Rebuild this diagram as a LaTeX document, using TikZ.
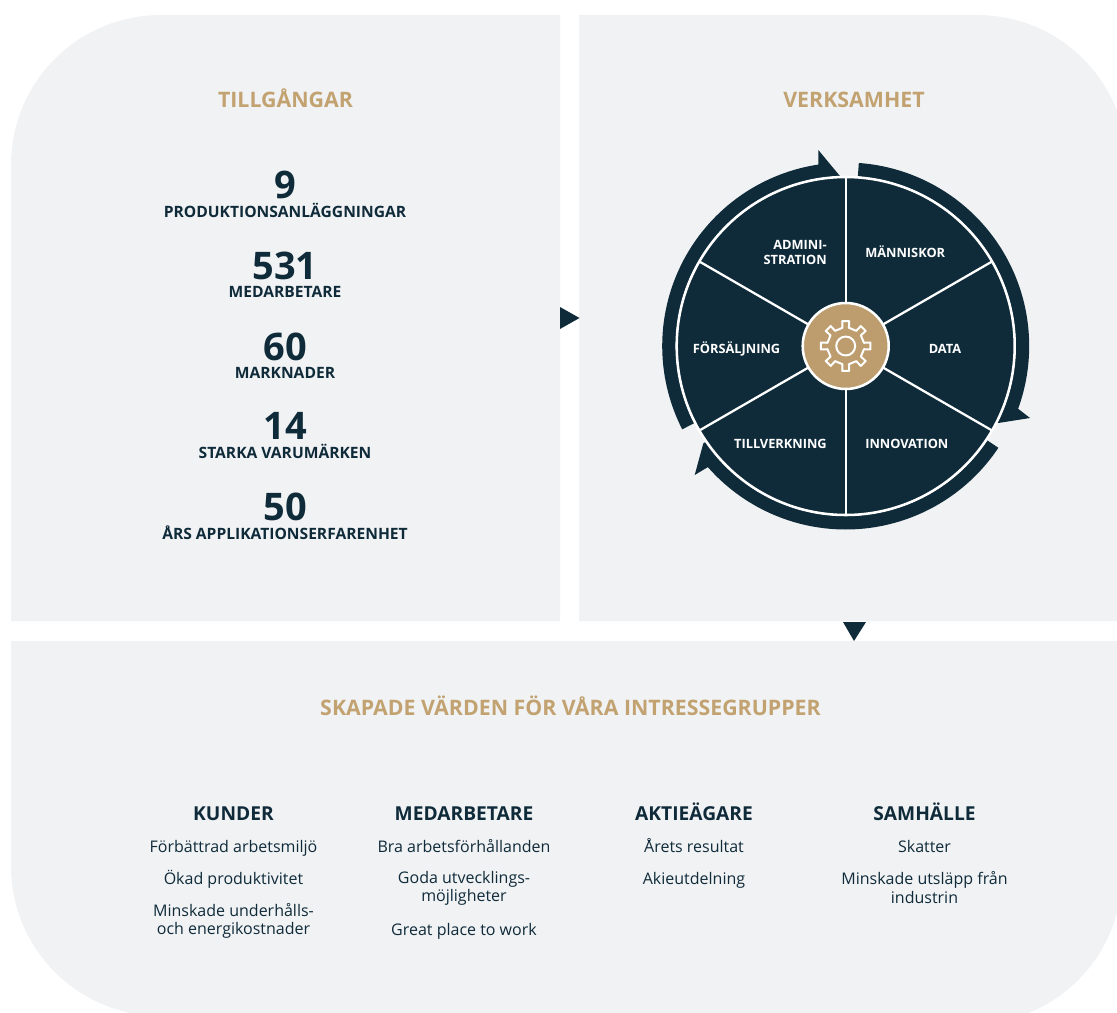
\documentclass[tikz,border=0pt]{standalone}
\usepackage{fontspec}
\setmainfont{Open Sans}
\definecolor{panelgrey}{HTML}{F1F2F4}
\definecolor{navy}{HTML}{0F2B3A}
\definecolor{gold}{HTML}{BD9C6E}
\definecolor{titlegold}{HTML}{C2A270}
\tikzset{
  panel/.style={fill=panelgrey,draw=none},
  heading/.style={font=\fontsize{16}{18}\selectfont\bfseries,text=titlegold,inner sep=0pt,anchor=center},
  bignum/.style={font=\fontsize{28.5}{30}\selectfont\bfseries,text=navy,inner sep=0pt,anchor=base},
  numlabel/.style={font=\fontsize{11.7}{14}\selectfont\bfseries,text=navy,inner sep=0pt,anchor=base},
  wedgelabel/.style={font=\fontsize{9.6}{11.8}\selectfont\bfseries,text=white,inner sep=0pt},
  grouphead/.style={font=\fontsize{14.4}{16}\selectfont\bfseries,text=navy,inner sep=0pt,anchor=base},
  groupitem/.style={font=\fontsize{12}{14}\selectfont,text=navy,inner sep=0pt,anchor=base},
  groupitemtwo/.style={font=\fontsize{12}{14}\selectfont,text=navy,inner sep=0pt,anchor=center,align=center},
  flowarrow/.style={fill=navy,draw=none},
  ringarc/.style={fill=navy,draw=none},
  spoke/.style={draw=white,line width=1.7pt}
}
\begin{document}
\begin{tikzpicture}[x=0.75pt,y=-0.75pt]
\useasboundingbox (0,0) rectangle (1117,1013);
\clip (0,0) rectangle (1117,1013);
% panels
\fill[panel] (11,621) -- (11,165) .. controls (11,82) and (78,15) .. (161,15) -- (560,15) -- (560,621) -- cycle;
\fill[panel] (579,621) -- (579,15) -- (977,15) .. controls (1060,15) and (1127,82) .. (1127,165) -- (1127,621) -- cycle;
\fill[panel] (11,641) -- (1122,641) -- (1122,874) .. controls (1122,957) and (1055,1024) .. (972,1024) -- (161,1016) .. controls (78,1016) and (11,949) .. (11,866) -- cycle;
% flow arrows
\fill[flowarrow] (560,307) -- (579.5,318) -- (560,329) -- cycle;
\fill[flowarrow] (843,622) -- (866,622) -- (854,641) -- cycle;
% left panel
\node[heading] (t1) at (285.5,98.5) {TILLGÅNGAR};
\node[bignum] (n1) at (285,198.3) {9};
\node[numlabel] (l1) at (285,218) {PRODUKTIONSANLÄGGNINGAR};
\node[bignum] (n2) at (285,279.3) {531};
\node[numlabel] (l2) at (285,297.7) {MEDARBETARE};
\node[bignum] (n3) at (285,360) {60};
\node[numlabel] (l3) at (285,378) {MARKNADER};
\node[bignum] (n4) at (285,439.5) {14};
\node[numlabel] (l4) at (285,458.4) {STARKA VARUMÄRKEN};
\node[bignum] (n5) at (285,520.8) {50};
\node[numlabel] (l5) at (285,539) {ÅRS APPLIKATIONSERFARENHET};
% wheel
\node[heading] (t2) at (854,99.5) {VERKSAMHET};
\begin{scope}[shift={(845.7,346)}]
  \fill[navy] (0,0) circle[radius=126.75pt];
  \fill[ringarc] plot[domain=-85.9:20,samples=70] (\x:183.5) -- (184.3,72) -- (152.6,77) -- plot[domain=26.8:-85.9,samples=70] (\x:170);
  \fill[ringarc] plot[domain=33.7:138.7,samples=70] (\x:183.5) -- (-151,129) -- (-142.4,97.4) -- plot[domain=145.6:33.7,samples=70] (\x:170);
  \fill[ringarc] plot[domain=153:261.4,samples=70] (\x:183.5) -- (-27.4,-196) -- (-5.7,-169.9) -- plot[domain=268:153,samples=70] (\x:170);
  \foreach \a in {-90,-30,30,90,150,210} \draw[spoke] (0,0) -- (\a:169);
  \draw[white,line width=1.9pt] (0,0) circle[radius=126.75pt];
  \node[circle,fill=gold,draw=white,line width=1.9pt,minimum size=64.5pt,inner sep=0pt] (hub) at (0,0) {};
  \draw[white,line width=1.5pt,line join=round] (-10:18.5)
    \foreach \a in {0,45,...,315} { -- ({\a-10}:18.5) -- ({\a-8}:25) -- ({\a+8}:25) -- ({\a+10}:18.5) } -- cycle;
  \draw[white,line width=1.5pt] (0,0) circle[radius=7.1pt];
\end{scope}
\node[wedgelabel,anchor=base west] (w1) at (865,257.2) {MÄNNISKOR};
\node[wedgelabel,anchor=base] (w2) at (945,353.2) {DATA};
\node[wedgelabel,anchor=base west] (w3) at (865,448.3) {INNOVATION};
\node[wedgelabel,anchor=base east] (w4) at (827,448.3) {TILLVERKNING};
\node[wedgelabel,anchor=base] (w5) at (736.5,353.2) {FÖRSÄLJNING};
\node[wedgelabel,anchor=east,align=right] (w6) at (827,252.5) {ADMINI-\\STRATION};
% bottom panel
\node[heading] (t3) at (570.5,705.5) {SKAPADE VÄRDEN FÖR VÅRA INTRESSEGRUPPER};
\node[grouphead] (g1) at (233.5,820) {KUNDER};
\node[groupitem] (g1a) at (233.5,852) {Förbättrad arbetsmiljö};
\node[groupitem] (g1b) at (233.5,884) {Ökad produktivitet};
\node[groupitemtwo] (g1c) at (233.5,921) {Minskade underhålls-\\och energikostnader};
\node[grouphead] (g2) at (464,820) {MEDARBETARE};
\node[groupitem] (g2a) at (464,852) {Bra arbetsförhållanden};
\node[groupitemtwo] (g2b) at (464,888.5) {Goda utvecklings-\\möjligheter};
\node[groupitem] (g2c) at (464,935) {Great place to work};
\node[grouphead] (g3) at (694,820) {AKTIEÄGARE};
\node[groupitem] (g3a) at (694,852) {Årets resultat};
\node[groupitem] (g3b) at (694,884) {Akieutdelning};
\node[grouphead] (g4) at (924.5,820) {SAMHÄLLE};
\node[groupitem] (g4a) at (924.5,852) {Skatter};
\node[groupitemtwo] (g4b) at (924.5,887.5) {Minskade utsläpp från\\industrin};
\end{tikzpicture}
\end{document}
